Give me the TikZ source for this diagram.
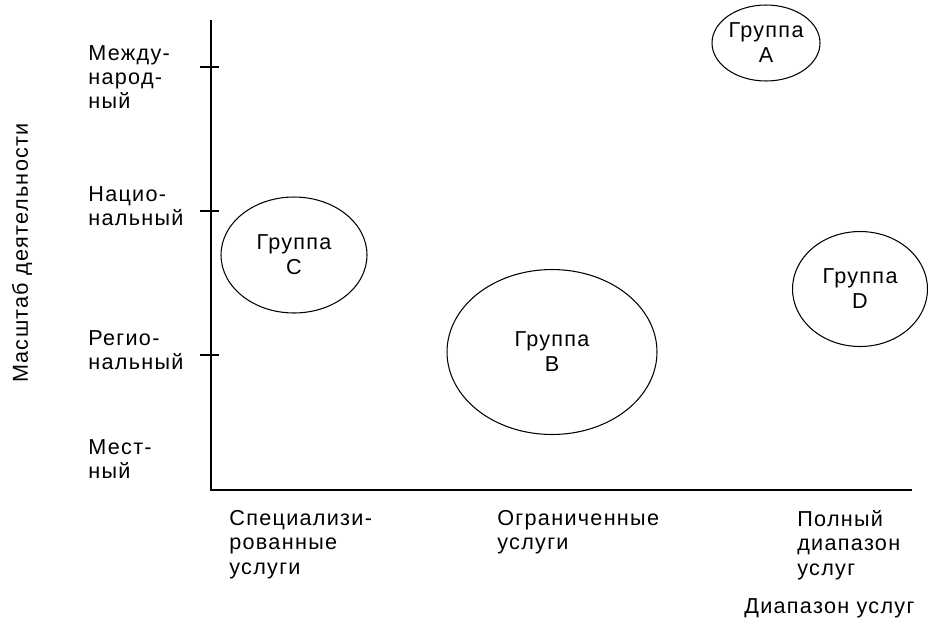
\documentclass[tikz,border=0pt]{standalone}
\usepackage{fontspec}
\setmainfont[LetterSpace=6]{Liberation Sans}
\usepackage{tikz}
\usetikzlibrary{shapes.geometric}

\tikzset{
    lbl/.style={font=\fontsize{12.3}{13.9}\selectfont, align=left, inner sep=0pt},
    grp/.style={draw, ellipse, line width=0.6pt, inner sep=0pt, align=center,
        font=\fontsize{12.3}{14.2}\selectfont},
    axis/.style={line width=1.1pt}
}

\begin{document}
\begin{tikzpicture}[x=0.02cm, y=-0.02cm]
    \useasboundingbox (0,0) rectangle (928,626);

    % Axes
    \coordinate (ytop) at (211,20);
    \coordinate (xend) at (912,490);
    \draw[axis] (ytop) |- (xend);
    \foreach \ty in {67,211,355}
        \draw[axis] (200,\ty) -- (219,\ty);

    % Scale labels (vertical)
    \node[lbl, rotate=90] (scale) at (22,253) {Масштаб деятельности};
    \node[lbl, anchor=west] (intl) at (88,77) {Между-\\народ-\\ный};
    \node[lbl, anchor=west] (natl) at (88,206) {Нацио-\\нальный};
    \node[lbl, anchor=west] (regl) at (88,350) {Регио-\\нальный};
    \node[lbl, anchor=west] (locl) at (88,459) {Мест-\\ный};

    % Range labels (horizontal)
    \node[lbl, anchor=north west] (spec) at (229,510) {Специализи-\\рованные\\услуги};
    \node[lbl, anchor=north west] (lim) at (497,510) {Ограниченные\\услуги};
    \node[lbl, anchor=north west] (full) at (797,510) {Полный\\диапазон\\услуг};
    \node[lbl, anchor=west] (range) at (744,608) {Диапазон услуг};

    % Groups
    \node[grp, minimum width=2.16cm, minimum height=1.52cm] (grpA) at (766,43) {Группа\\A};
    \node[grp, minimum width=4.2cm, minimum height=3.3cm] (grpB) at (552,352) {Группа\\B};
    \node[grp, minimum width=2.92cm, minimum height=2.32cm] (grpC) at (294,255) {Группа\\C};
    \node[grp, minimum width=2.7cm, minimum height=2.3cm] (grpD) at (860,289) {Группа\\D};
\end{tikzpicture}
\end{document}
